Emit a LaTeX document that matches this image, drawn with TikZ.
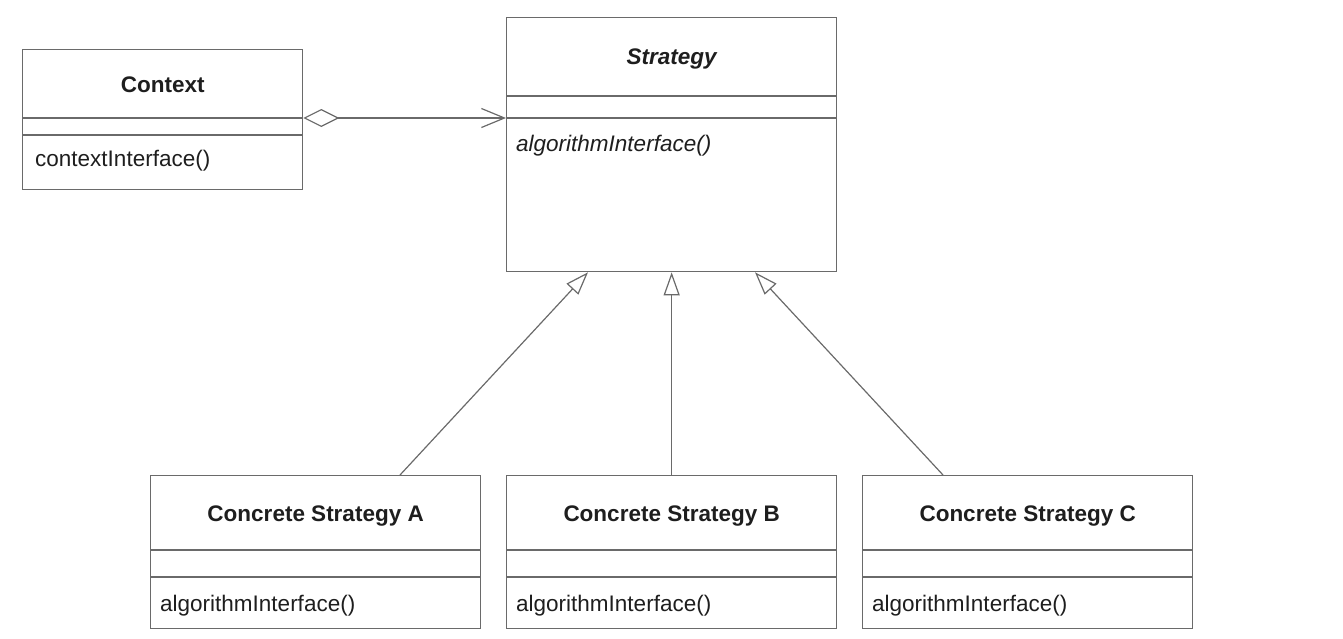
\documentclass[tikz,border=0pt]{standalone}
\usepackage{fontspec}
\setmainfont{Liberation Sans}
\usetikzlibrary{arrows.meta,calc}
\definecolor{linegray}{HTML}{6A6A6A}
\definecolor{inkcol}{HTML}{1E1E1E}
\begin{document}
\begin{tikzpicture}[x=1pt,y=-1pt,
  umlbox/.style={draw=linegray, line width=1.3pt, fill=white, rectangle,
    inner sep=0pt, anchor=north west},
  divider/.style={draw=linegray, line width=1.3pt},
  umltext/.style={inner sep=0pt, text=inkcol, font=\fontsize{22.5}{27}\selectfont},
  classname/.style={umltext, font=\fontsize{22.5}{27}\selectfont\bfseries},
  absname/.style={umltext, font=\fontsize{22.5}{27}\selectfont\bfseries\itshape},
  member/.style={umltext, anchor=west},
  absmember/.style={member, font=\fontsize{22.5}{27}\selectfont\itshape},
  link/.style={draw=linegray, line width=1.2pt},
  aggr/.style={link, {Diamond[open, length=36pt, width=18pt]}-{Straight Barb[length=23pt, width=19pt]}},
  inherit/.style={link, -{Triangle[open, length=23pt, width=16pt, fill=white]}}
]
\useasboundingbox (0,0) rectangle (1343,638);

% Context
\node[umlbox, minimum width=280pt, minimum height=140pt] (ctx) at (22,49) {};
\draw[divider] ($(ctx.north west)+(0,69)$) -- ($(ctx.north east)+(0,69)$);
\draw[divider] ($(ctx.north west)+(0,86)$) -- ($(ctx.north east)+(0,86)$);
\node[classname] (ctxname) at ($(ctx.north)+(0,36)$) {Context};
\node[member] (ctxop) at ($(ctx.north west)+(13,112)$) {contextInterface()};

% Strategy (abstract)
\node[umlbox, minimum width=330pt, minimum height=254pt] (strat) at (506,17) {};
\draw[divider] ($(strat.north west)+(0,79)$) -- ($(strat.north east)+(0,79)$);
\draw[divider] ($(strat.north west)+(0,101)$) -- ($(strat.north east)+(0,101)$);
\node[absname] (stratname) at ($(strat.north)+(0,42)$) {Strategy};
\node[absmember] (stratop) at ($(strat.north west)+(10,129)$) {algorithmInterface()};

% Concrete strategies
\foreach \nm/\x/\lbl in {csa/150/A, csb/506/B, csc/862/C}{
  \node[umlbox, minimum width=330pt, minimum height=153pt] (\nm) at (\x,475) {};
  \draw[divider] ($(\nm.north west)+(0,75)$) -- ($(\nm.north east)+(0,75)$);
  \draw[divider] ($(\nm.north west)+(0,102)$) -- ($(\nm.north east)+(0,102)$);
  \node[classname] (\nm name) at ($(\nm.north)+(0,41)$) {Concrete Strategy \lbl};
  \node[member] (\nm op) at ($(\nm.north west)+(10,131)$) {algorithmInterface()};
}

% Aggregation Context -> Strategy
\coordinate (aggfrom) at ($(ctx.north east)+(0,69)$);
\coordinate (aggto) at ($(strat.north west)+(0,101)$);
\draw[aggr] (aggfrom) -- (aggto);

% Generalisations
\coordinate (genA) at ($(csa.north west)+(250,0)$);
\coordinate (tipA) at ($(strat.south west)+(82,0)$);
\coordinate (genC) at ($(csc.north west)+(81,0)$);
\coordinate (tipC) at ($(strat.south west)+(249,0)$);
\draw[inherit] (genA) -- (tipA);
\draw[inherit] (csb.north) -- (strat.south);
\draw[inherit] (genC) -- (tipC);
\end{tikzpicture}
\end{document}
